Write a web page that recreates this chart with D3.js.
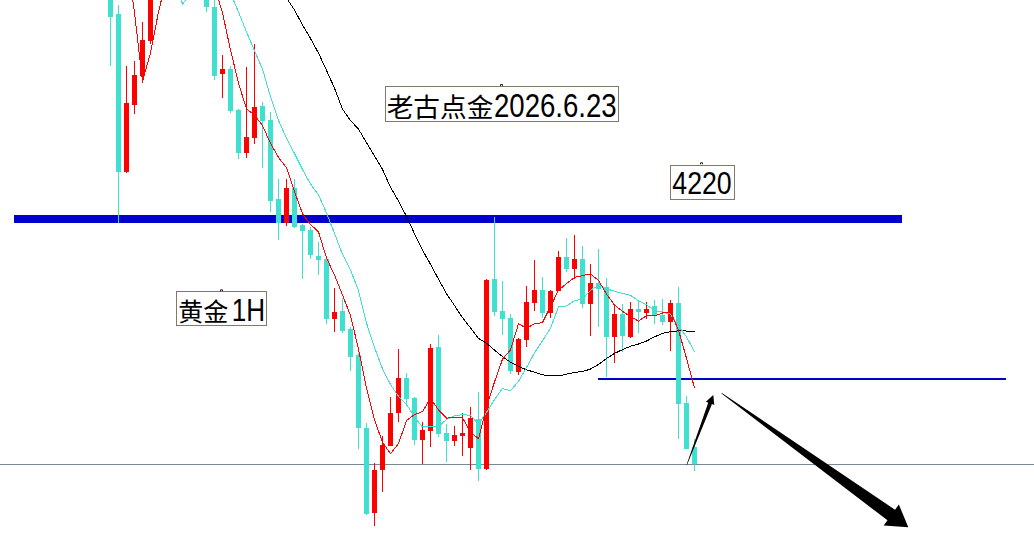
<!DOCTYPE html>
<html><head><meta charset="utf-8">
<script src="https://cdn.jsdelivr.net/npm/d3@7"></script>
<style>html,body{margin:0;padding:0;background:#fff;overflow:hidden}svg{display:block}</style>
</head><body><svg id="c" width="1034" height="535"></svg>
<script>
// Gold 1H candles; bar index of the first entry (first 7 bars sit above the visible window)
const firstBar = -7;
const opens = [4390,4395,4438,4403.5,4418.5,4428.5,4438.4,
 4336,4321.5,4242.5,4276.2,4290.5,4308.2,4388.5,4348.5,4358.5,4371,
 4358.5,4363.5,4331,4325.2,4291.7,4294,4273.7,4252.2,4259.7,4275.5,
 4268.5,4229,4217.2,4234.5,4216,4213.5,4200.5,4199,4169.2,4173,
 4164,4151.2,4114.7,4072.2,4093.7,4105.7,4122.2,4139.7,4129.7,4108.7,
 4113.2,4155.2,4112.2,4108.2,4110.7,4104.7,4119.2,4094.2,4189.2,4173.2,
 4169.7,4142.7,4158.7,4177.2,4183.7,4172.2,4183.2,4200.2,4194.2,4199.2,
 4176.7,4187,4185.2,4160.2,4171.7,4160.2,4174.2,4172.2,4175.7,4171.2,
 4167.7,4177.2,4127.2,4105.2];
const highs = [4400,4445,4442,4425,4435,4445,4485,
 4341,4326,4295.7,4298,4317.5,4396,4398.5,4368.5,4376,4378.5,
 4373.5,4368.5,4336,4328.5,4301,4295.5,4274.2,4295,4306.7,4277.5,
 4272.5,4239,4239,4239,4216.5,4215.2,4207.5,4199.5,4184.5,4179,
 4165,4152,4117.2,4097.2,4110.7,4130.2,4154.2,4142.2,4130.2,4117.7,
 4156.7,4161.2,4116.5,4115.7,4122.2,4125.2,4132.7,4189.2,4220.2,4188.2,
 4171.7,4159.7,4185.7,4198.7,4190.2,4183.5,4203.2,4209.7,4211.2,4205.7,
 4196.5,4204.2,4189.7,4176,4176.5,4177.5,4178.5,4177.7,4178.7,4179.2,
 4178.7,4185.2,4130.7,4109.2];
const lows = [4385,4390,4398,4400,4412,4420,4430,
 4295.7,4217,4242,4271.7,4287,4306.5,4338.5,4341,4353.5,4356,
 4353.5,4331,4322.7,4288.5,4279.7,4272.2,4249.2,4249.7,4256.7,4244.7,
 4222.7,4208.7,4215.7,4214.5,4189.2,4199.2,4191.2,4166.7,4162.7,4162.2,
 4143,4104.2,4071.2,4065.5,4082.7,4105.5,4117.7,4125.7,4106.2,4096.7,
 4105.2,4110.2,4097.7,4105.7,4100.7,4093.7,4088.2,4093.7,4170.7,4161.2,
 4141.7,4141.2,4155.2,4173.2,4169.7,4169.7,4183,4192.7,4189.2,4174.7,
 4160.7,4165,4140.2,4147.2,4152.5,4159.7,4162.2,4169.2,4166.7,4166.2,
 4153.2,4109.2,4104,4093.2];
const closes = [4395,4438,4403.5,4418.5,4428.5,4438.4,4479.5,
 4320.2,4242.5,4277,4291,4308.5,4391,4345.2,4360.2,4368.5,4361,
 4365.7,4335,4324.9,4290.5,4294,4273.2,4252.2,4260.2,4275,4268.2,
 4228.2,4217.2,4234.5,4215.2,4213.2,4201.2,4198.7,4169.2,4172.5,4163.2,
 4150.2,4114.7,4071.7,4093.7,4106.2,4122.2,4139.7,4129.2,4108.7,4113.7,
 4154.7,4111.7,4108.2,4111.2,4112.2,4119.7,4094.2,4188.7,4172.7,4169.2,
 4143.2,4159.2,4177.7,4183.7,4172.2,4183.2,4200.2,4194.2,4199.2,4176.7,
 4187.2,4184.2,4160.2,4171.7,4160.7,4174.2,4172.7,4174.2,4171.2,4167.7,
 4177.2,4126.7,4104.2,4096.7];

// moving averages on the closes
const maPeriods = [30, 10, 5];
const maColors = ["#000000", "#40e0d0", "#ff0000"];

// horizontal levels: price, from bar, to bar, thickness, colour
const levelPrices = [4096.5, 4219, 4139];
const levelFrom = [-14, -12, 61];
const levelTo = [116, 99, 112];
const levelWidths = [1, 8, 2];
const levelColors = ["#778899", "#0000cc", "#0000cc"];

// arrows: [bar, price] tail -> tip
const arrowTails = [[72.09, 4096], [76.46, 4131.9]];
const arrowTips = [[75.41, 4131], [99.79, 4064.85]];

// text labels
const labelTexts = [["老古点金", "2026.6.23"], ["4220"], ["黄金", "1H"]];

const upColor = "#ff0000", downColor = "#40e0d0";

const W = 1034, H = 535;
const svg = d3.select("#c");
const x = d3.scaleLinear().domain([-13.75, 115.5]).range([0, W]);
const y = d3.scaleLinear().domain([4328.5, 4061]).range([0, H]);

const bars = opens.map((o, k) => ({i: firstBar + k, o, h: highs[k], l: lows[k], c: closes[k]}));

// levels
levelPrices.forEach((p, k) => {
  const yy = y(p);
  svg.append("rect")
    .attr("x", x(levelFrom[k])).attr("width", x(levelTo[k]) - x(levelFrom[k]))
    .attr("y", yy - levelWidths[k] / 2).attr("height", levelWidths[k])
    .attr("fill", levelColors[k]).attr("shape-rendering", "crispEdges");
});

// candles
const cg = svg.append("g").attr("shape-rendering", "crispEdges");
bars.forEach(b => {
  const col = b.c >= b.o ? upColor : downColor;
  const cx = Math.round(x(b.i));
  cg.append("rect").attr("x", cx).attr("width", 1)
    .attr("y", Math.round(y(b.h))).attr("height", Math.max(1, Math.round(y(b.l)) - Math.round(y(b.h))))
    .attr("fill", col);
  const top = Math.round(y(Math.max(b.o, b.c))), bot = Math.round(y(Math.min(b.o, b.c)));
  cg.append("rect").attr("x", cx - 2).attr("width", 5)
    .attr("y", top).attr("height", Math.max(1, bot - top)).attr("fill", col);
});

// moving averages
maPeriods.forEach((n, k) => {
  const pts = [];
  for (let j = n - 1; j < closes.length; j++) {
    pts.push([bars[j].i, d3.mean(closes.slice(j - n + 1, j + 1))]);
  }
  svg.append("path")
    .attr("d", d3.line().x(d => Math.round(x(d[0])) + 0.5).y(d => y(d[1]))(pts))
    .attr("fill", "none").attr("stroke", maColors[k]).attr("stroke-width", 1)
    .attr("shape-rendering", "crispEdges");
});

// arrows
function arrow(t, p, tailHalf, shaftHalf, headHalf, headLen) {
  const x0 = x(t[0]), y0 = y(t[1]), x1 = x(p[0]), y1 = y(p[1]);
  const L = Math.hypot(x1 - x0, y1 - y0);
  const ux = (x1 - x0) / L, uy = (y1 - y0) / L, nx = -uy, ny = ux;
  const bx = x1 - ux * headLen, by = y1 - uy * headLen;
  const pts = [
    [x0 + nx * tailHalf, y0 + ny * tailHalf],
    [bx + nx * shaftHalf, by + ny * shaftHalf],
    [bx + nx * headHalf, by + ny * headHalf],
    [x1, y1],
    [bx - nx * headHalf, by - ny * headHalf],
    [bx - nx * shaftHalf, by - ny * shaftHalf],
    [x0 - nx * tailHalf, y0 - ny * tailHalf]
  ];
  svg.append("path").attr("d", "M" + pts.map(q => q.join(",")).join("L") + "Z").attr("fill", "#000");
}
arrow(arrowTails[0], arrowTips[0], 0.3, 2, 4.5, 9);
arrow(arrowTails[1], arrowTips[1], 0.4, 6.5, 13, 21);

// labels (one text element per box, one tspan per script run)
const boxes = [
  {rx: 385.5, ry: 86.5, rw: 233, rh: 35, mark: [500, 84], base: 117,
   runs: [{x: 386.7, w: 106.7, size: 26.5, cjk: true}, {x: 494, w: 122.7, size: 33}]},
  {rx: 670.5, ry: 165.5, rw: 64, rh: 34, mark: [700, 162.3], base: 194.3,
   runs: [{x: 672.3, w: 59.4, size: 31.5}]},
  {rx: 176.5, ry: 291.5, rw: 90, rh: 34, mark: [220, 289.3], base: 321,
   runs: [{x: 178.3, w: 50, size: 25.5, cjk: true}, {x: 231.7, w: 33.3, size: 31.5}]}
];
boxes.forEach((b, k) => {
  svg.append("rect").attr("x", b.rx).attr("y", b.ry).attr("width", b.rw).attr("height", b.rh)
    .attr("fill", "none").attr("stroke", "#857868").attr("stroke-width", 1);
  svg.append("path").attr("d", `M${b.mark[0]+0.5},${b.mark[1]+2}V${b.mark[1]+0.5}H${b.mark[0]+2.5}V${b.mark[1]+2}`)
    .attr("fill", "none").attr("stroke", "#222").attr("stroke-width", 1);
  const t = svg.append("text").attr("y", b.base).attr("fill", "#000");
  b.runs.forEach((r, j) => {
    t.append("tspan").attr("x", r.x).attr("y", b.base)
      .attr("font-family", r.cjk ? "'Noto Sans CJK SC', sans-serif" : "'Liberation Sans', Arial, sans-serif")
      .attr("font-size", r.size)
      .attr("textLength", r.w).attr("lengthAdjust", "spacingAndGlyphs")
      .text(labelTexts[k][j]);
  });
});
</script></body></html>
